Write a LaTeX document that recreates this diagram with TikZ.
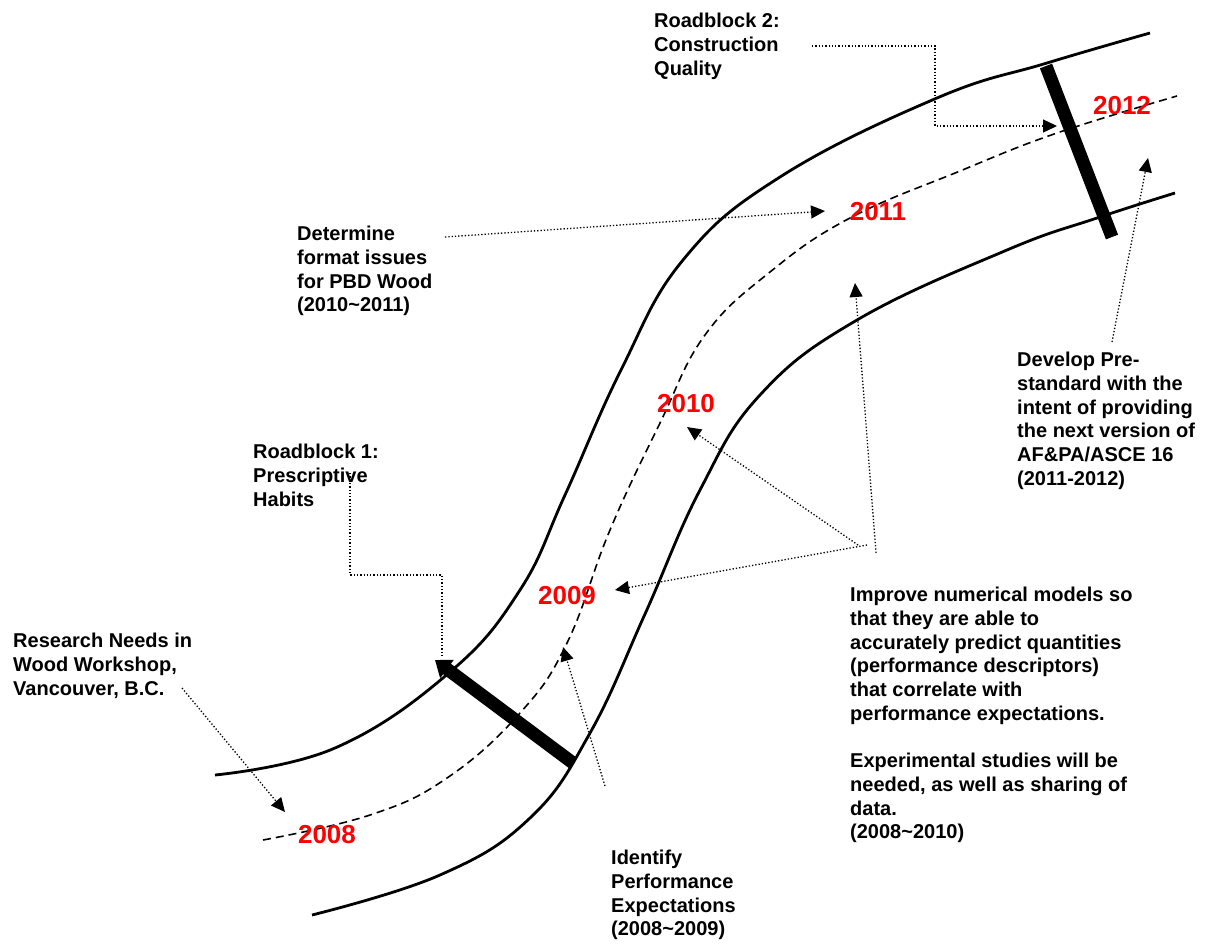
\documentclass[tikz,border=0pt]{standalone}
\usepackage{fontspec}
\setmainfont{Liberation Sans}
\usetikzlibrary{arrows.meta}
\begin{document}
\begin{tikzpicture}[x=1pt,y=-1pt,
  lbl/.style={anchor=north west, inner sep=0pt, align=left, font=\fontsize{20}{23.7}\selectfont\bfseries},
  yr/.style={inner sep=0pt, text=red, font=\fontsize{26}{30}\selectfont\bfseries},
  edge/.style={line width=2.8pt},
  center/.style={line width=1.6pt, dash pattern=on 8pt off 5pt},
  conn/.style={line width=1.3pt, dash pattern=on 1.3pt off 2pt, -{Triangle[length=14pt,width=13pt]}},
  connn/.style={line width=1.3pt, dash pattern=on 1.3pt off 2pt},
  block/.style={line width=13pt}]
\useasboundingbox (0,0) rectangle (1212,946);

% road edges
\draw[edge] plot[smooth, tension=0.7] coordinates {(215,775) (335,748) (450,672) (520,590) (565,495) (621,370) (683,260) (780,177) (937,98) (1047,63) (1150,33)};
\draw[edge] plot[smooth, tension=0.7] coordinates {(312,915) (440,875) (530,818) (590,733) (645,614) (700,490) (760,395) (857,320) (1007,250) (1097,218) (1175,193)};
% dashed centre line
\draw[center] plot[smooth, tension=0.7] coordinates {(263,840) (370,815) (447,778) (520,713) (567,643) (610,530) (660,423) (705,335) (770,272) (850,218) (960,171) (1057,133) (1177,96)};

% year labels
\node[yr] (y2008) at (327,835) {2008};
\node[yr] (y2009) at (567,596) {2009};
\node[yr] (y2010) at (686,404) {2010};
\node[yr] (y2011) at (878,212) {2011};
\node[yr] (y2012) at (1122,106) {2012};

% text blocks
\node[lbl] (rb2) at (654,13) {Roadblock 2:\\Construction\\Quality};
\node[lbl] (det) at (297,226) {Determine\\format issues\\for PBD Wood\\(2010\textasciitilde 2011)};
\node[lbl] (rb1) at (253,444) {Roadblock 1:\\Prescriptive\\Habits};
\node[lbl] (res) at (13,633) {Research Needs in\\Wood Workshop,\\Vancouver, B.C.};
\node[lbl] (ide) at (611,850) {Identify\\Performance\\Expectations\\(2008\textasciitilde 2009)};
\node[lbl] (imp) at (850,587) {Improve numerical models so\\that they are able to\\accurately predict quantities\\(performance descriptors)\\that correlate with\\performance expectations.\\[23.7pt]Experimental studies will be\\needed, as well as sharing of\\data.\\(2008\textasciitilde 2010)};
\node[lbl] (dev) at (1017,352) {Develop Pre-\\standard with the\\intent of providing\\the next version of\\AF\&PA/ASCE 16\\(2011-2012)};

% connector end points
\coordinate (rb2s) at (812,46);
\coordinate (rb2t) at (1057,126);
\coordinate (dets) at (445,237);
\coordinate (dett) at (825,211);
\coordinate (rb1s) at (350,473);
\coordinate (rb1t) at (442,658);
\coordinate (ress) at (182,688);
\coordinate (rest) at (285,812);
\coordinate (ides) at (605,786);
\coordinate (idet) at (563,647);
\coordinate (impa) at (867,545);
\coordinate (impb) at (858,545);
\coordinate (impc) at (876,553);
\coordinate (impta) at (615,590);
\coordinate (imptb) at (687,427);
\coordinate (imptc) at (855,283);
\coordinate (devs) at (1112,342);
\coordinate (devt) at (1148,158);

% dotted connectors
\draw[conn] (rb2s) -- ++(123,0) |- (rb2t);
\draw[conn] (dets) -- (dett);
\draw[connn] (rb1s) -- ++(0,102) -| (rb1t);
\draw[conn] (ress) -- (rest);
\draw[conn] (ides) -- (idet);
\draw[conn] (impa) -- (impta);
\draw[conn] (impb) -- (imptb);
\draw[conn] (impc) -- (imptc);
\draw[conn] (devs) -- (devt);

% roadblocks
\coordinate (b1a) at (573,763);
\coordinate (b1b) at (435,660);
\draw[block, -{Triangle[length=15pt,width=22pt]}] (b1a) -- (b1b);
\coordinate (b2a) at (1046,66);
\coordinate (b2b) at (1112,237);
\draw[block] (b2a) -- (b2b);
\end{tikzpicture}
\end{document}
